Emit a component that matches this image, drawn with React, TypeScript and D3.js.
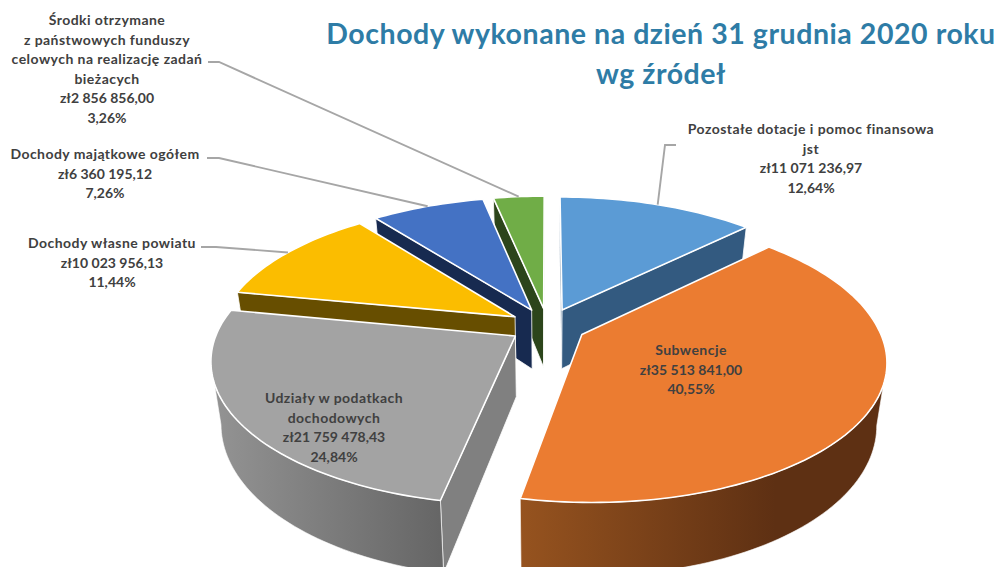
import React from "react";
import * as d3 from "d3";

const categories = [
  ["Pozostałe dotacje i pomoc finansowa", "jst"],
  ["Subwencje"],
  ["Udziały w podatkach", "dochodowych"],
  ["Dochody własne powiatu"],
  ["Dochody majątkowe ogółem"],
  ["Środki otrzymane", "z państwowych funduszy", "celowych na realizację zadań", "bieżacych"],
];
const values = [11071236.97, 35513841.0, 21759478.43, 10023956.13, 6360195.12, 2856856.0];
const valueLabels = ["zł11 071 236,97", "zł35 513 841,00", "zł21 759 478,43", "zł10 023 956,13", "zł6 360 195,12", "zł2 856 856,00"];
const percentLabels = ["12,64%", "40,55%", "24,84%", "11,44%", "7,26%", "3,26%"];
const topColors = ["#5b9bd5", "#eb7c31", "#a3a3a3", "#fbbd00", "#4472c4", "#70ad47"];
const edgeColors = ["#335a80", "#93511f", "#808080", "#674e00", "#172a50", "#2c451b"];
const wallFrom = ["#335a80", "#96531f", "#939393", "#674e00", "#172a50", "#2c451b"];
const wallTo = ["#335a80", "#5e3013", "#666666", "#674e00", "#172a50", "#2c451b"];
const titleLines = ["Dochody wykonane na dzień 31 grudnia 2020 roku", "wg źródeł"];

// Label layout: centre x, first baseline, and the leader elbow (null when placed inside a slice)
const labelCx = [811, 691, 334, 112, 105, 107];
const labelY = [134, 355, 403, 248, 159, 25];
const leaderStart = [[676, 145], null, null, [201, 247], [207, 158], [208, 62]];
const leaderElbow = [[665, 145], null, null, [216, 247], [219, 158], [219, 62]];

const paintOrder = [5, 4, 0, 3, 1, 2];
const CX = 547.5, CY = 326, RX = 296, RY = 136.7, P = 0.167, EXPLODE = 0.13, DEPTH = 60;
const SHRINK = 0.97, FRONT_SKEW = 3;

const project = (u: number, v: number) => {
  const f = 1 / (1 + P * v);
  return { x: CX + RX * u * f - FRONT_SKEW * Math.min(v, 0), y: CY - RY * v * f, f };
};

const arcs = d3.pie<number>().sort(null)(values);

const sliceGeom = (a: d3.PieArcDatum<number>) => {
  const mid = (a.startAngle + a.endAngle) / 2;
  const ou = EXPLODE * Math.sin(mid), ov = EXPLODE * Math.cos(mid);
  const apex = project(ou, ov);
  const n = Math.max(8, Math.ceil((a.endAngle - a.startAngle) * 40));
  const rim = d3.range(n + 1).map((i) => {
    const t = a.startAngle + ((a.endAngle - a.startAngle) * i) / n;
    return project(ou + Math.sin(t), ov + Math.cos(t));
  });
  const midRim = project(ou + Math.sin(mid), ov + Math.cos(mid));
  return { apex, rim, midRim };
};

const down = (p: { x: number; y: number; f: number }) => ({
  x: CX + (p.x - CX) * SHRINK,
  y: p.y + DEPTH * p.f,
  f: p.f,
});
const path = d3.line<{ x: number; y: number }>().x((d) => d.x).y((d) => d.y);

export default function App() {
  const geoms = arcs.map(sliceGeom);
  const font = "Lato, 'Open Sans', sans-serif";
  return (
    <svg width={1000} height={567} viewBox="0 0 1000 567"
      style={{ position: "absolute", left: 0, top: 0, background: "#fff" }} fontFamily={font}>
      <defs>
        {values.map((_, i) => (
          <linearGradient key={i} id={`wall${i}`} gradientUnits="userSpaceOnUse"
            x1={i === 1 ? 520 : 215} x2={i === 1 ? 775 : 440} y1={0} y2={0}>
            <stop offset="0" stopColor={wallFrom[i]} />
            <stop offset="1" stopColor={wallTo[i]} />
          </linearGradient>
        ))}
      </defs>

      {paintOrder.map((i) => {
        const { apex, rim } = geoms[i];
        const first = rim[0], last = rim[rim.length - 1];
        const walls = [];
        if (first.x < apex.x) walls.push([apex, first, down(first), down(apex)]);
        if (last.x > apex.x) walls.push([apex, last, down(last), down(apex)]);
        // the outer wall shows only where the rim runs right-to-left on screen
        const front = rim.filter((p, j) => (j < rim.length - 1 && rim[j + 1].x < p.x) || (j > 0 && p.x < rim[j - 1].x));
        const band = front.length > 1 ? [...front, ...front.slice().reverse().map(down)] : null;
        const top = [apex, ...rim];
        return (
          <g key={i} stroke="#fff" strokeLinejoin="round">
            {walls.map((w, j) => (
              <path key={j} d={path(w)! + "Z"} fill={edgeColors[i]} strokeWidth={0.8} />
            ))}
            {band && <path d={path(band)! + "Z"} fill={`url(#wall${i})`} strokeWidth={0.6} />}
            <path d={path(top)! + "Z"} fill={topColors[i]} strokeWidth={1.6} />
          </g>
        );
      })}

      {values.map((_, i) => {
        const s = leaderStart[i], e = leaderElbow[i];
        if (!s || !e) return null;
        const t = geoms[i].midRim;
        return <polyline key={i} points={`${s} ${e} ${t.x},${t.y}`} fill="none" stroke="#a6a6a6" strokeWidth={1.9} />;
      })}

      {values.map((_, i) => {
        const names = categories[i];
        const numbers = [valueLabels[i], percentLabels[i]];
        return (
          <text key={i} textAnchor="middle" fontSize={14} fontWeight={700} fill="#404040">
            {names.map((l, j) => (
              <tspan key={j} x={labelCx[i]} y={labelY[i] + j * 19.55} letterSpacing={0.45}>{l}</tspan>
            ))}
            {numbers.map((l, j) => (
              <tspan key={j} x={labelCx[i]} y={labelY[i] + (names.length + j) * 19.55} letterSpacing={0}>{l}</tspan>
            ))}
          </text>
        );
      })}

      {titleLines.map((l, j) => (
        <text key={j} x={661} y={44 + j * 40} textAnchor="middle" fontSize={28.5} letterSpacing={0.55} fontWeight={700} fill="#2e7ca6">{l}</text>
      ))}
    </svg>
  );
}
